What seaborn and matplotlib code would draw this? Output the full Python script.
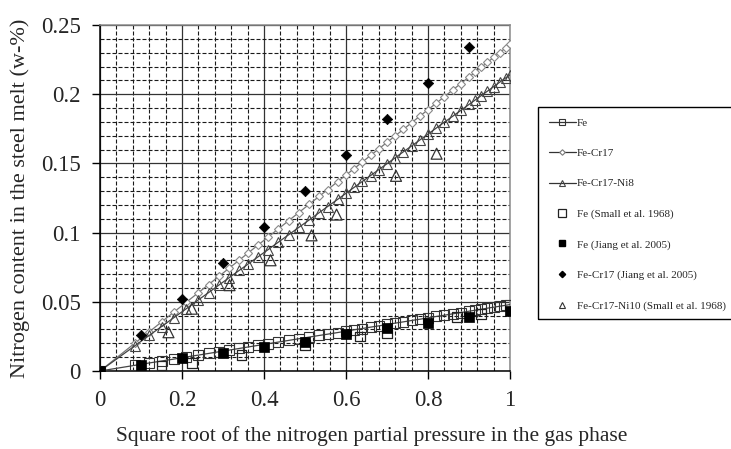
import matplotlib
matplotlib.use("Agg")
import matplotlib.pyplot as plt
from matplotlib.lines import Line2D
from matplotlib.patches import Rectangle
from matplotlib.ticker import MultipleLocator, FixedLocator
import seaborn as sns

# Sieverts-law model curves: nitrogen content vs sqrt(pN2)
model_x = [0, 0.085, 0.12, 0.15, 0.18, 0.21, 0.24, 0.265, 0.29, 0.315, 0.34, 0.36,
           0.385, 0.41, 0.435, 0.46, 0.485, 0.51, 0.535, 0.555, 0.58, 0.6, 0.62,
           0.64, 0.66, 0.68, 0.7, 0.72, 0.74, 0.76, 0.78, 0.8, 0.82, 0.84, 0.86,
           0.88, 0.9, 0.915, 0.93, 0.945, 0.96, 0.975, 0.99, 1.0]
fe_model = [0, 0.0041, 0.0058, 0.0072, 0.0086, 0.0101, 0.0115, 0.0127, 0.0139, 0.0151,
            0.0163, 0.0173, 0.0185, 0.0197, 0.0209, 0.0221, 0.0233, 0.0245, 0.0257,
            0.0266, 0.0278, 0.0288, 0.0298, 0.0307, 0.0317, 0.0326, 0.0336, 0.0346,
            0.0355, 0.0365, 0.0374, 0.0384, 0.0394, 0.0403, 0.0413, 0.0422, 0.0432,
            0.0439, 0.0446, 0.0454, 0.0461, 0.0468, 0.0475, 0.0480]
fecr17_model = [0, 0.0201, 0.0283, 0.0354, 0.0425, 0.0496, 0.0566, 0.0625, 0.0684,
                0.0743, 0.0802, 0.0850, 0.0909, 0.0968, 0.1027, 0.1086, 0.1145, 0.1204,
                0.1263, 0.1310, 0.1369, 0.1416, 0.1463, 0.1510, 0.1558, 0.1605, 0.1652,
                0.1699, 0.1746, 0.1794, 0.1841, 0.1888, 0.1935, 0.1982, 0.2030, 0.2077,
                0.2124, 0.2159, 0.2195, 0.2230, 0.2266, 0.2301, 0.2336, 0.2360]
fecr17ni8_model = [0, 0.0182, 0.0257, 0.0321, 0.0385, 0.0449, 0.0514, 0.0567, 0.0621,
                   0.0674, 0.0728, 0.0770, 0.0824, 0.0877, 0.0931, 0.0984, 0.1038,
                   0.1091, 0.1145, 0.1188, 0.1241, 0.1284, 0.1327, 0.1370, 0.1412,
                   0.1455, 0.1498, 0.1541, 0.1584, 0.1626, 0.1669, 0.1712, 0.1755,
                   0.1798, 0.1840, 0.1883, 0.1926, 0.1958, 0.1990, 0.2022, 0.2054,
                   0.2087, 0.2119, 0.2140]

# Measured data
fe_small_x = [0.15, 0.224, 0.345, 0.5, 0.634, 0.70, 0.87, 0.93]
fe_small_y = [0.004, 0.006, 0.0115, 0.019, 0.025, 0.027, 0.039, 0.041]

fe_jiang_x = [0, 0.1, 0.2, 0.3, 0.4, 0.5, 0.6, 0.7, 0.8, 0.9, 1.0]
fe_jiang_y = [0, 0.0043, 0.0092, 0.0128, 0.0176, 0.021, 0.0267, 0.031, 0.0347, 0.039, 0.0436]

fecr17_jiang_x = [0.1, 0.2, 0.3, 0.4, 0.5, 0.6, 0.7, 0.8, 0.9]
fecr17_jiang_y = [0.026, 0.052, 0.078, 0.104, 0.130, 0.156, 0.182, 0.208, 0.234]

ni10_small_x = [0.167, 0.224, 0.316, 0.416, 0.516, 0.577, 0.722, 0.821]
ni10_small_y = [0.028, 0.045, 0.062, 0.080, 0.098, 0.113, 0.141, 0.157]

x_ticks = [0, 0.2, 0.4, 0.6, 0.8, 1.0]
x_tick_labels = ["0", "0.2", "0.4", "0.6", "0.8", "1"]
y_ticks = [0, 0.05, 0.1, 0.15, 0.2, 0.25]
y_tick_labels = ["0", "0.05", "0.1", "0.15", "0.2", "0.25"]

legend_labels = ["Fe", "Fe-Cr17", "Fe-Cr17-Ni8", "Fe (Small et al. 1968)",
                 "Fe (Jiang et al. 2005)", "Fe-Cr17 (Jiang et al. 2005)",
                 "Fe-Cr17-Ni10 (Small et al. 1968)"]

sns.set_style("white")
plt.rcParams["font.family"] = ["Liberation Serif", "DejaVu Serif"]

W, H = 731, 449
fig = plt.figure(figsize=(W / 100, H / 100), dpi=100)
ax = fig.add_axes([100 / W, 1 - 371 / H, 410 / W, 346 / H])

# Model lines
sns.lineplot(x=model_x, y=fe_model, ax=ax, color="#444444", lw=0.9, marker="s",
             markersize=6.5, markerfacecolor="none", markeredgecolor="#333333",
             markeredgewidth=0.8, zorder=4)
sns.lineplot(x=model_x, y=fecr17_model, ax=ax, color="#777777", lw=0.9, marker="D",
             markersize=3.8, markerfacecolor="white", markeredgecolor="#888888",
             markeredgewidth=0.8, zorder=4)
sns.lineplot(x=model_x, y=fecr17ni8_model, ax=ax, color="#444444", lw=0.9, marker="^",
             markersize=7.0, markerfacecolor="none", markeredgecolor="#444444",
             markeredgewidth=0.8, zorder=4)

# Experimental points
sns.scatterplot(x=fe_small_x, y=fe_small_y, ax=ax, marker="s", s=48,
                facecolor="none", edgecolor="#222222", linewidth=0.9, zorder=5)
sns.scatterplot(x=fe_jiang_x, y=fe_jiang_y, ax=ax, marker="s", s=44,
                color="black", edgecolor="black", linewidth=0.5, zorder=6)
sns.scatterplot(x=fecr17_jiang_x, y=fecr17_jiang_y, ax=ax, marker="D", s=28,
                color="black", edgecolor="black", linewidth=0.5, zorder=6)
sns.scatterplot(x=ni10_small_x, y=ni10_small_y, ax=ax, marker="^", s=62,
                facecolor="none", edgecolor="#333333", linewidth=0.9, zorder=5)

ax.set_xlim(0, 1)
ax.set_ylim(0, 0.25)
ax.xaxis.set_major_locator(FixedLocator(x_ticks))
ax.yaxis.set_major_locator(FixedLocator(y_ticks))
ax.xaxis.set_minor_locator(MultipleLocator(0.04))
ax.yaxis.set_minor_locator(MultipleLocator(0.01))
ax.set_xticklabels(x_tick_labels)
ax.set_yticklabels(y_tick_labels)
ax.grid(which="major", color="#333333", lw=0.9, ls="-", zorder=1)
ax.grid(which="minor", color="#1a1a1a", lw=0.8, ls=(0, (3.6, 1.8)), zorder=1)
ax.set_axisbelow(True)
ax.tick_params(axis="both", which="major", direction="out", length=6, width=1,
               color="black", labelsize=16.5, pad=8, bottom=True, left=True)
ax.tick_params(axis="both", which="minor", length=0)
for side in ("left", "bottom"):
    ax.spines[side].set_color("black")
    ax.spines[side].set_linewidth(1.1)
for side in ("top", "right"):
    ax.spines[side].set_color("#8a8a8a")
    ax.spines[side].set_linewidth(1.1)

ax.set_xlabel("Square root of the nitrogen partial pressure in the gas phase",
              fontsize=15.5)
ax.xaxis.set_label_coords((372 - 100) / 410, (371 - 436) / 346)
ax.xaxis.label.set_va("center")
ax.set_ylabel("Nitrogen content in the steel melt (w-%)", fontsize=16)
ax.yaxis.set_label_coords((20 - 100) / 410, (371 - 198) / 346)
ax.yaxis.label.set_va("center")

# Legend
handles = [
    Line2D([], [], color="#333333", lw=0.9, marker="s", ms=4.5, mfc="none", mec="#333333", mew=0.8),
    Line2D([], [], color="#333333", lw=0.9, marker="D", ms=2.8, mfc="white", mec="#777777", mew=0.8),
    Line2D([], [], color="#333333", lw=0.9, marker="^", ms=4.5, mfc="none", mec="#444444", mew=0.8),
    Line2D([], [], ls="none", marker="s", ms=5.5, mfc="none", mec="#222222", mew=0.9),
    Line2D([], [], ls="none", marker="s", ms=5.0, mfc="black", mec="black"),
    Line2D([], [], ls="none", marker="D", ms=3.2, mfc="black", mec="black"),
    Line2D([], [], ls="none", marker="^", ms=5.0, mfc="none", mec="#333333", mew=0.8),
]
fig.legend(handles, legend_labels, loc="upper left",
           bbox_to_anchor=(549 / W, 1 - 118 / H), frameon=False, fontsize=8,
           handlelength=2.4, handletextpad=0.1, labelspacing=1.85,
           borderpad=0, borderaxespad=0)
fig.patches.append(Rectangle((538 / W, 1 - 319 / H), 0.4, 212 / H,
                             transform=fig.transFigure, fill=False,
                             edgecolor="black", lw=1.0))

fig.savefig("out.png", dpi=100)
